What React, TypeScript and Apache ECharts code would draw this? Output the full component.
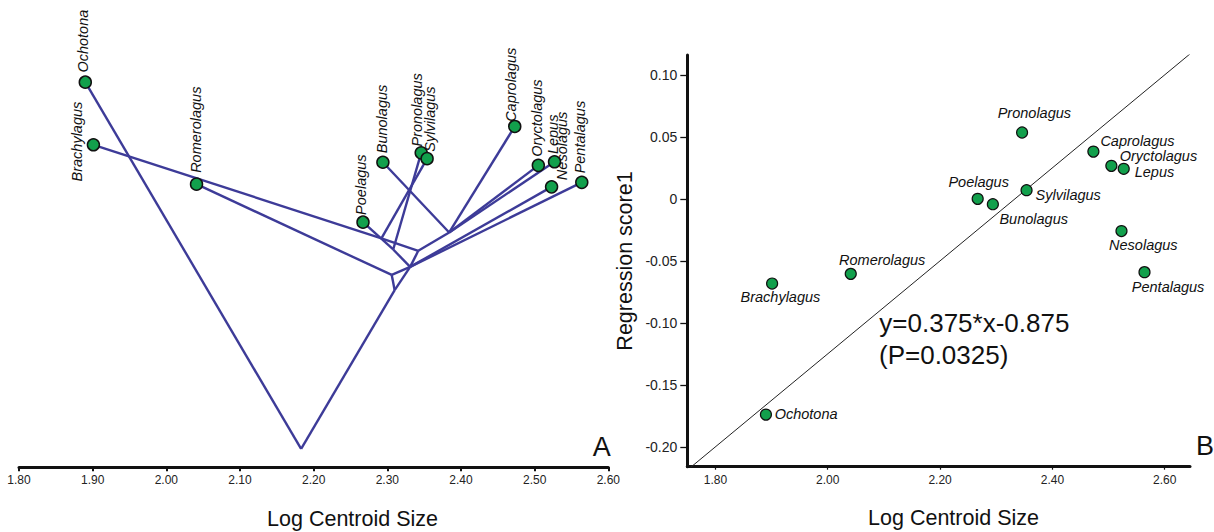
import React, { useEffect, useRef } from "react";
import * as echarts from "echarts";

// ---------- data ----------
const taxa = [
  "Ochotona", "Brachylagus", "Romerolagus", "Poelagus", "Bunolagus", "Pronolagus",
  "Sylvilagus", "Caprolagus", "Oryctolagus", "Lepus", "Nesolagus", "Pentalagus",
];
const logCentroidSize = [1.890, 1.901, 2.041, 2.267, 2.294, 2.346, 2.354, 2.473, 2.505, 2.527, 2.523, 2.564];
const regressionScore1 = [-0.174, -0.0683, -0.0605, 0.0, -0.0043, 0.0535, 0.007, 0.0381, 0.0266, 0.0242, -0.026, -0.0591];
// vertical position of tips in the phylomorphospace (panel A, arbitrary units)
const treeTipHeight = [0.861, 0.721, 0.633, 0.548, 0.682, 0.703, 0.690, 0.762, 0.675, 0.683, 0.627, 0.637];
// reconstructed ancestral nodes (panel A)
const nodeNames = ["root", "n1", "n2", "n3", "n4", "n5", "n6", "n7"];
const nodeSize = [2.183, 2.310, 2.306, 2.331, 2.308, 2.342, 2.292, 2.384];
const nodeHeight = [0.041, 0.396, 0.430, 0.448, 0.487, 0.484, 0.512, 0.525];
const treeEdges: [string, string][] = [
  ["root", "Ochotona"], ["root", "n1"], ["n1", "n3"], ["n1", "n2"], ["n2", "Romerolagus"],
  ["n2", "n3"], ["n3", "n4"], ["n4", "Poelagus"], ["n4", "Pronolagus"], ["n3", "n5"],
  ["n5", "n6"], ["n6", "Brachylagus"], ["n6", "Sylvilagus"], ["n5", "n7"], ["n7", "Bunolagus"],
  ["n7", "Caprolagus"], ["n7", "Oryctolagus"], ["n7", "Lepus"], ["n3", "Nesolagus"], ["n3", "Pentalagus"],
];
const xTicksA = [1.8, 1.9, 2.0, 2.1, 2.2, 2.3, 2.4, 2.5, 2.6];
const xTicksB = [1.8, 2.0, 2.2, 2.4, 2.6];
const yTicksB = [-0.2, -0.15, -0.1, -0.05, 0, 0.05, 0.1];
const slope = 0.375;
const intercept = -0.875;
const pValue = 0.0325;

// ---------- label placement (styling) ----------
const labelA: Record<string, [number, number]> = {
  Ochotona: [-2.7, -9.6], Brachylagus: [-16.3, 36.7], Romerolagus: [-1, -11.3], Poelagus: [-1.7, -7.3],
  Bunolagus: [-1, -9], Pronolagus: [-4.3, -6.3], Sylvilagus: [3.4, -7], Caprolagus: [-3.3, -4.6],
  Oryctolagus: [-1, -8.6], Lepus: [-1.7, -7.7], Nesolagus: [10.6, -6.7], Pentalagus: [-1.7, -9],
};
const labelB: Record<string, [number, number, string]> = {
  Ochotona: [8.7, -0.7, "left"], Brachylagus: [8.3, 13.6, "center"], Romerolagus: [-11.7, -14, "left"],
  Poelagus: [1, -17, "center"], Bunolagus: [6.6, 15, "left"], Pronolagus: [12.3, -20, "center"],
  Sylvilagus: [9, 4.7, "left"], Caprolagus: [7, -10.8, "left"], Oryctolagus: [8.4, -9.4, "left"],
  Lepus: [11, 3.2, "left"], Nesolagus: [-12.4, 14.4, "left"], Pentalagus: [-12.7, 15, "left"],
};

const FONT = "'Liberation Sans', Arial, sans-serif";
const GREEN = "#12a04c";
const TREE = "#3d3b98";

export default function App() {
  const ref = useRef<HTMLDivElement>(null);
  useEffect(() => {
    if (!ref.current) return;
    const chart = echarts.init(ref.current, undefined, { renderer: "svg" });

    const pos: Record<string, [number, number]> = {};
    taxa.forEach((t, i) => (pos[t] = [logCentroidSize[i], treeTipHeight[i]]));
    nodeNames.forEach((n, i) => (pos[n] = [nodeSize[i], nodeHeight[i]]));

    const symA = 12, bwA = 1.5;
    const halfA = (symA + bwA) / 2;
    const symB = 11, bwB = 1.2;
    const halfB = (symB + bwB) / 2;

    const tipsA = taxa.map((t, i) => ({
      value: [logCentroidSize[i], treeTipHeight[i]],
      name: t,
      label: {
        position: [halfA + labelA[t][0], halfA + labelA[t][1]],
      },
    }));
    const tipsB = taxa.map((t, i) => ({
      value: [logCentroidSize[i], regressionScore1[i]],
      name: t,
      label: {
        position: [halfB + labelB[t][0], halfB + labelB[t][1]],
        align: labelB[t][2],
      },
    }));

    const xMinB = 1.75, xMaxB = 2.645;
    const axisCol = "#111";
    const fmt2 = (v: number) => v.toFixed(2);

    chart.setOption({
      animation: false,
      textStyle: { fontFamily: FONT },
      grid: [
        { left: 19, right: 1214 - 608.3, top: 20, bottom: 532 - 467.3 },
        { left: 687.3, right: 1214 - 1190, top: 55, bottom: 532 - 466.7 },
      ],
      xAxis: [
        {
          gridIndex: 0, type: "value", min: 1.8, max: 2.6,
          splitLine: { show: false },
          axisLine: { onZero: false, lineStyle: { color: axisCol, width: 3 } },
          axisTick: { length: 4, lineStyle: { color: axisCol, width: 2 }, customValues: xTicksA },
          axisLabel: { customValues: xTicksA, formatter: fmt2, fontSize: 12, color: "#222", margin: 7, fontFamily: FONT },
        },
        {
          gridIndex: 1, type: "value", min: xMinB, max: xMaxB,
          splitLine: { show: false },
          axisLine: { onZero: false, lineStyle: { color: axisCol, width: 3 } },
          axisTick: { length: 3, lineStyle: { color: axisCol, width: 1.2 }, customValues: xTicksB },
          axisLabel: { customValues: xTicksB, formatter: fmt2, fontSize: 12, color: "#222", margin: 7, fontFamily: FONT },
        },
      ],
      yAxis: [
        { gridIndex: 0, type: "value", min: 0, max: 1, show: false },
        {
          gridIndex: 1, type: "value", min: -0.216, max: 0.116,
          splitLine: { show: false },
          axisLine: { onZero: false, lineStyle: { color: axisCol, width: 3 } },
          axisTick: { length: 7, lineStyle: { color: axisCol, width: 1.3 }, customValues: yTicksB },
          axisLabel: {
            customValues: yTicksB,
            formatter: (v: number) => (Math.abs(v) < 1e-9 ? "0" : v.toFixed(2)),
            fontSize: 14, color: "#222", margin: 10, fontFamily: FONT,
          },
        },
      ],
      series: [
        {
          type: "lines",
          coordinateSystem: "cartesian2d",
          xAxisIndex: 0, yAxisIndex: 0,
          lineStyle: { color: TREE, width: 2.4, opacity: 1 },
          data: treeEdges.map(([a, b]) => ({ coords: [pos[a], pos[b]] })),
          z: 2,
        },
        {
          type: "scatter",
          xAxisIndex: 0, yAxisIndex: 0,
          symbolSize: symA,
          itemStyle: { color: GREEN, borderColor: "#111", borderWidth: bwA, opacity: 1 },
          label: {
            show: true, formatter: "{b}", rotate: 90, align: "left", verticalAlign: "middle",
            fontStyle: "italic", fontSize: 14.5, color: "#111", fontFamily: FONT,
          },
          data: tipsA,
          z: 3,
        },
        {
          type: "line",
          xAxisIndex: 1, yAxisIndex: 1,
          showSymbol: false,
          clip: true,
          lineStyle: { color: "#222", width: 1 },
          data: [
            [xMinB, slope * xMinB + intercept],
            [xMaxB, slope * xMaxB + intercept],
          ],
          z: 2,
        },
        {
          type: "scatter",
          xAxisIndex: 1, yAxisIndex: 1,
          symbolSize: symB,
          itemStyle: { color: GREEN, borderColor: "#111", borderWidth: bwB, opacity: 1 },
          label: {
            show: true, formatter: "{b}", verticalAlign: "middle",
            fontStyle: "italic", fontSize: 14.5, color: "#111", fontFamily: FONT,
          },
          data: tipsB,
          z: 3,
        },
      ],
      graphic: [
        { type: "text", x: 352.5, y: 519, style: { text: "Log Centroid Size", fontSize: 21.5, fontFamily: FONT, fill: "#111", align: "center", verticalAlign: "middle" } },
        { type: "text", x: 953.5, y: 518, style: { text: "Log Centroid Size", fontSize: 21.5, fontFamily: FONT, fill: "#111", align: "center", verticalAlign: "middle" } },
        { type: "text", x: 625, y: 261, rotation: Math.PI / 2, style: { text: "Regression score1", fontSize: 21.5, fontFamily: FONT, fill: "#111", align: "center", verticalAlign: "middle" } },
        { type: "text", x: 601.7, y: 447, style: { text: "A", fontSize: 27, fontFamily: FONT, fill: "#111", align: "center", verticalAlign: "middle" } },
        { type: "text", x: 1205, y: 446, style: { text: "B", fontSize: 27, fontFamily: FONT, fill: "#111", align: "center", verticalAlign: "middle" } },
        { type: "text", x: 879.3, y: 322.5, style: { text: `y=${slope}*x${intercept}`, fontSize: 26, fontFamily: FONT, fill: "#111", align: "left", verticalAlign: "middle" } },
        { type: "text", x: 879, y: 355, style: { text: `(P=${pValue})`, fontSize: 26, fontFamily: FONT, fill: "#111", align: "left", verticalAlign: "middle" } },
      ],
    });
    return () => chart.dispose();
  }, []);
  return (
    <div
      ref={ref}
      style={{ position: "absolute", left: 0, top: 0, width: 1214, height: 532, background: "#fff" }}
    />
  );
}
